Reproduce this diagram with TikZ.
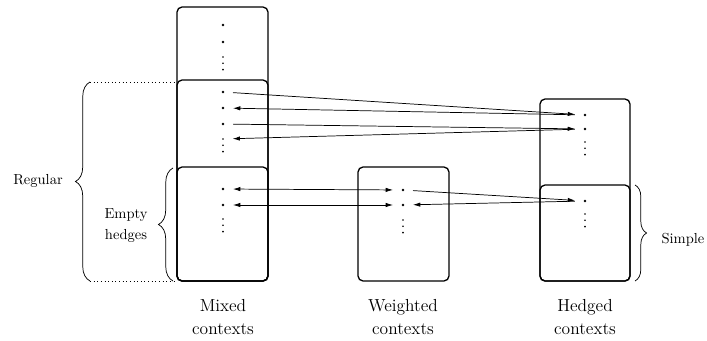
\documentclass[tikz,border=0pt]{standalone}
\usepackage{amsmath}
\usetikzlibrary{positioning,arrows.meta,decorations.pathreplacing}

% a column of three small dots, the top one named
\newcommand{\vd}[3]{%
  \node[vdot] (#1) at (#2,#3) {};
  \fill (#2,#3+6.3) circle (0.65pt) (#2,#3+12.6) circle (0.65pt);}

\begin{document}
\begin{tikzpicture}[
  x=0.0242cm, y=-0.0242cm,
  ctx/.style={
    draw=black,
    line width=0.9pt,
    rounded corners=3.5pt
  },
  pt/.style={
    circle,
    fill=black,
    inner sep=0pt,
    minimum size=1.8pt,
    outer sep=6pt
  },
  vdot/.style={
    pt,
    minimum size=1.3pt
  },
  arrow/.style={
    -{Latex[length=5pt,width=3pt]},
    line width=0.5pt
  },
  twoway/.style={
    {Latex[length=5pt,width=3pt]}-{Latex[length=5pt,width=3pt]},
    line width=0.5pt
  },
  curly/.style={
    decorate,
    decoration={brace,amplitude=#1},
    line width=0.5pt
  },
  label/.style={
    font=\normalsize,
    align=center,
    inner sep=0pt
  },
  title/.style={
    font=\large,
    align=center,
    inner sep=0pt,
    anchor=north
  }
]
\useasboundingbox (0,0) rectangle (707,341);

% Context boxes
\draw[ctx] (177,7) rectangle (268,281);
\draw[ctx] (177,80) rectangle (268,281);
\draw[ctx] (177,167) rectangle (268,281);
\draw[ctx] (358,167) rectangle (449,281);
\draw[ctx] (540,99) rectangle (630,281);
\draw[ctx] (540,185) rectangle (630,281);

% Dots of the mixed contexts
\foreach \y/\n in {25/a1,42/a2,92/b1,108/b2,124/b3,189/c1,205/c2}
  \node[pt] (m\n) at (223,\y) {};
\vd{mav}{223}{57}
\vd{mbv}{223}{139}
\vd{mcv}{223}{219}

% Dots of the weighted contexts
\foreach \y/\n in {190/a1,205/a2}
  \node[pt] (w\n) at (403,\y) {};
\vd{wav}{403}{220}

% Dots of the hedged contexts
\foreach \y/\n in {115/a1,129/a2,201/b1}
  \node[pt] (h\n) at (585,\y) {};
\vd{hav}{585}{142}
\vd{hbv}{585}{214}

% Arrows
\draw[arrow] (mb1) -- (ha1);
\draw[arrow] (ha1) -- (mb2);
\draw[arrow] (mb3) -- (ha2);
\draw[arrow] (ha2) -- (mbv);
\draw[twoway] (mc1) -- (wa1);
\draw[twoway] (mc2) -- (wa2);
\draw[arrow] (wa1) -- (hb1);
\draw[arrow] (hb1) -- (wa2);

% Braces
\coordinate (regbot) at (90,281);
\coordinate (regtop) at (90,82);
\coordinate (empbot) at (173,281);
\coordinate (emptop) at (173,168);
\coordinate (simtop) at (635,185);
\coordinate (simbot) at (635,281);
\draw[curly=10pt] (regbot) -- (regtop);
\draw[curly=10pt] (empbot) -- (emptop);
\draw[curly=8pt] (simtop) -- (simbot);
\draw[dotted, line width=0.5pt] (regtop) -- (177,82);
\draw[dotted, line width=0.5pt] (regbot) -- (177,281);

% Side labels
\node[label, anchor=base] (regular) at (38,185) {Regular};
\node[label, anchor=north] (empty) at (126,208) {Empty\\[3pt]hedges};
\node[label, anchor=base] (simple) at (683,244) {Simple};

% Column titles
\node[title] (mixed) at (223,299) {Mixed\\[2pt]contexts};
\node[title] (weighted) at (403,299) {Weighted\\[2pt]contexts};
\node[title] (hedged) at (585,299) {Hedged\\[2pt]contexts};

\end{tikzpicture}
\end{document}
